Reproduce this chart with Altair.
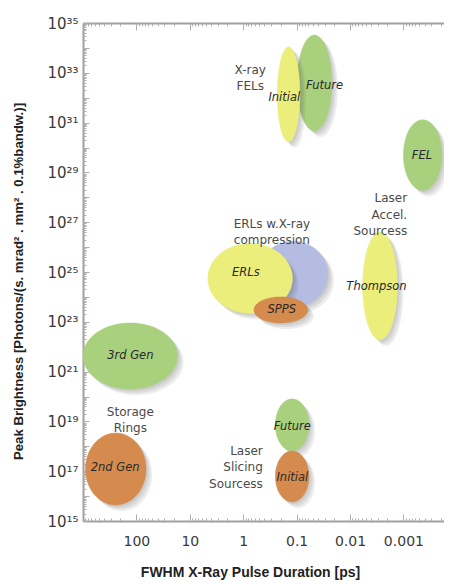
import altair as alt
import numpy as np
import pandas as pd

# ---------------- data ----------------
# ellipses (z-order: first drawn first)
ell_name = ["ERL compression", "ERLs", "SPPS", "XFEL Future", "XFEL Initial",
            "Laser FEL", "Thompson", "3rd Gen", "2nd Gen", "Slicing Future", "Slicing Initial"]
ell_color = ["#b4bce2", "#ebee7b", "#d58b4d", "#a9d07d", "#ebee7b",
             "#a9d07d", "#ebee7b", "#a9d07d", "#d58b4d", "#a9d07d", "#d58b4d"]
pulse_long = [0.52, 4.6, 0.63, 0.098, 0.23, 0.001, 0.0058, 1000, 900, 0.25, 0.25]      # ps
pulse_short = [0.026, 0.12, 0.062, 0.022, 0.087, 0.00019, 0.0013, 17, 66, 0.059, 0.059]  # ps
bright_low = [3.9e23, 2.2e23, 8.9e22, 4.6e30, 1.7e30, 1.9e28, 1.9e22, 2e20, 4.4e15, 6.5e17, 5.8e15]
bright_high = [1.7e26, 1.4e26, 1.0e24, 3.3e34, 1.1e34, 1.3e31, 4e26, 9e22, 3.4e18, 8e19, 6.5e17]

# italic labels inside ellipses
in_text = ["ERLs", "SPPS", "Future", "Initial", "FEL", "Thompson", "3rd Gen", "2nd Gen", "Future", "Initial"]
in_x = [0.89, 0.19, 0.030, 0.17, 0.00045, 0.0032, 130, 250, 0.12, 0.12]
in_y = [9.1e24, 3e23, 3e32, 1e32, 4.6e29, 2.5e24, 4.3e21, 1.35e17, 6e18, 5.4e16]

# group labels
grp_text = ["X-ray\nFELs", "Laser\nAccel.\nSourcess", "ERLs w.X-ray\ncompression",
            "Storage\nRings", "Laser\nSlicing\nSourcess"]
grp_x = [0.74, 0.00085, 0.29, 130, 0.43]
grp_y = [1.3e33, 9.3e27, 8.5e26, 2.4e19, 6.5e17]
grp_align = ["center", "right", "center", "center", "right"]

# axes
x_label_vals = [100, 10, 1, 0.1, 0.01, 0.001]
y_label_exp = [15, 17, 19, 21, 23, 25, 27, 29, 31, 33, 35]
y_label_txt = ["10¹⁵", "10¹⁷", "10¹⁹", "10²¹", "10²³", "10²⁵", "10²⁷", "10²⁹", "10³¹", "10³³", "10³⁵"]
x_title = "FWHM X-Ray Pulse Duration [ps]"
y_title = "Peak Brightness [Photons/(s. mrad² . mm² . 0.1%bandw.)]"

# ---------------- build ----------------
W, H = 361, 498
X_MIN = 10 ** -3.76
xscale = alt.Scale(type="log", domain=[X_MIN, 1000], reverse=True, nice=False)
yscale = alt.Scale(type="log", domain=[1e15, 1e35], nice=False)

rows = []
ts = np.linspace(0, 2 * np.pi, 73)
for i, nm in enumerate(ell_name):
    cx = (np.log10(pulse_long[i]) + np.log10(pulse_short[i])) / 2
    rx = abs(np.log10(pulse_long[i]) - np.log10(pulse_short[i])) / 2
    cy = (np.log10(bright_low[i]) + np.log10(bright_high[i])) / 2
    ry = (np.log10(bright_high[i]) - np.log10(bright_low[i])) / 2
    for k, t in enumerate(ts):
        rows.append({"name": nm, "k": k,
                     "x": 10 ** (cx + rx * np.cos(t)),
                     "y": 10 ** (cy + ry * np.sin(t))})
ell_df = pd.DataFrame(rows)

GRAY = "#a39e9e"
TICK = "#b3aeae"

layers = []
for i, nm in enumerate(ell_name):
    base = alt.Chart(ell_df).transform_filter(alt.datum.name == nm)
    enc = dict(x=alt.X("x:Q", scale=xscale, axis=None),
               y=alt.Y("y:Q", scale=yscale, axis=None),
               order=alt.Order("k:Q"))
    for off in (2, 4, 6):
        layers.append(base.mark_line(fill="#555555", stroke="#555555", strokeWidth=0,
                                     opacity=0.11, xOffset=off, yOffset=off).encode(**enc))
    layers.append(base.mark_line(fill=ell_color[i], stroke=ell_color[i], strokeWidth=0.5).encode(**enc))

in_df = pd.DataFrame({"t": in_text, "x": in_x, "y": in_y})
layers.append(alt.Chart(in_df).mark_text(font="DejaVu Sans", fontSize=11.5, fontStyle="italic",
                                         color="#2a2a2a").encode(
    x=alt.X("x:Q", scale=xscale, axis=None), y=alt.Y("y:Q", scale=yscale, axis=None), text="t:N"))

grp_df = pd.DataFrame({"t": grp_text, "x": grp_x, "y": grp_y, "a": grp_align})
for al in ("center", "right"):
    layers.append(alt.Chart(grp_df).transform_filter(alt.datum.a == al).mark_text(
        font="DejaVu Sans", fontSize=12, color="#4a4a4a", lineBreak="\n", lineHeight=16.5,
        align=al, baseline="middle").encode(
        x=alt.X("x:Q", scale=xscale, axis=None), y=alt.Y("y:Q", scale=yscale, axis=None), text="t:N"))

# axis carriers
x_major = [1000, 100, 10, 1, 0.1, 0.01, 0.001]
x_minor = [m * 10.0 ** k for k in range(-4, 3) for m in range(2, 10) if X_MIN <= m * 10.0 ** k <= 1000]
y_major = [float(10.0 ** k) for k in range(15, 36)]
y_minor = [m * 10.0 ** k for k in range(15, 35) for m in range(2, 10)]

expr = "''"
for e, t in zip(reversed(y_label_exp), reversed(y_label_txt)):
    expr = f"round(log(datum.value)/LN10) == {e} ? '{t}' : ({expr})"

dummy = pd.DataFrame({"x": [1.0], "y": [1e25]})


def carrier(xaxis, yaxis):
    return alt.Chart(dummy).mark_point(opacity=0).encode(
        x=alt.X("x:Q", scale=xscale, axis=xaxis),
        y=alt.Y("y:Q", scale=yscale, axis=yaxis))


def tick_axis(orient, vals, size):
    return alt.Axis(orient=orient, offset=-size, values=vals, labels=False, domain=False,
                    ticks=True, tickSize=size, tickColor=TICK, tickWidth=1, grid=False, title=None)


main_x = alt.Axis(orient="bottom", values=x_label_vals, format="~g", labelFont="DejaVu Sans",
                  labelFontSize=14, labelColor="#3a3a3a", labelPadding=13, ticks=False,
                  domain=True, domainColor=GRAY, domainWidth=2, grid=False,
                  title=x_title, titleFont="Liberation Sans", titleFontSize=14,
                  titleFontWeight="bold", titleColor="#222222", titleX=167, titleY=51,
                  titleBaseline="middle", titleAlign="center")
main_y = alt.Axis(orient="left", values=[float(10.0 ** e) for e in y_label_exp], labelExpr=expr,
                  labelFont="DejaVu Sans", labelFontSize=15, labelColor="#3a3a3a", labelPadding=5,
                  ticks=False, domain=True, domainColor=GRAY, domainWidth=2, grid=False,
                  title=y_title, titleFont="Liberation Sans", titleFontSize=13.2,
                  titleFontWeight="bold", titleColor="#222222", titleX=-65, titleY=258,
                  titleBaseline="middle", titleAlign="center")
top_dom = alt.Axis(orient="top", labels=False, ticks=False, domain=True, domainColor=GRAY,
                   domainWidth=2, grid=False, title=None, values=x_major)

layers = [
    carrier(main_x, main_y),
    carrier(tick_axis("bottom", x_major, 7), tick_axis("left", y_major, 6)),
    carrier(tick_axis("bottom", x_minor, 3), tick_axis("left", y_minor, 3)),
    carrier(top_dom, None),
    carrier(tick_axis("top", x_major, 7), None),
    carrier(tick_axis("top", x_minor, 3), None),
] + layers

chart = alt.layer(*layers).resolve_axis(x="independent", y="independent").properties(
    width=W, height=H,
    autosize=alt.AutoSizeParams(type="none"),
    padding={"left": 75, "top": 15, "right": 0, "bottom": 62},
).configure_view(stroke=None)

chart.save("out.html", embed_options={"renderer": "svg", "actions": False})
